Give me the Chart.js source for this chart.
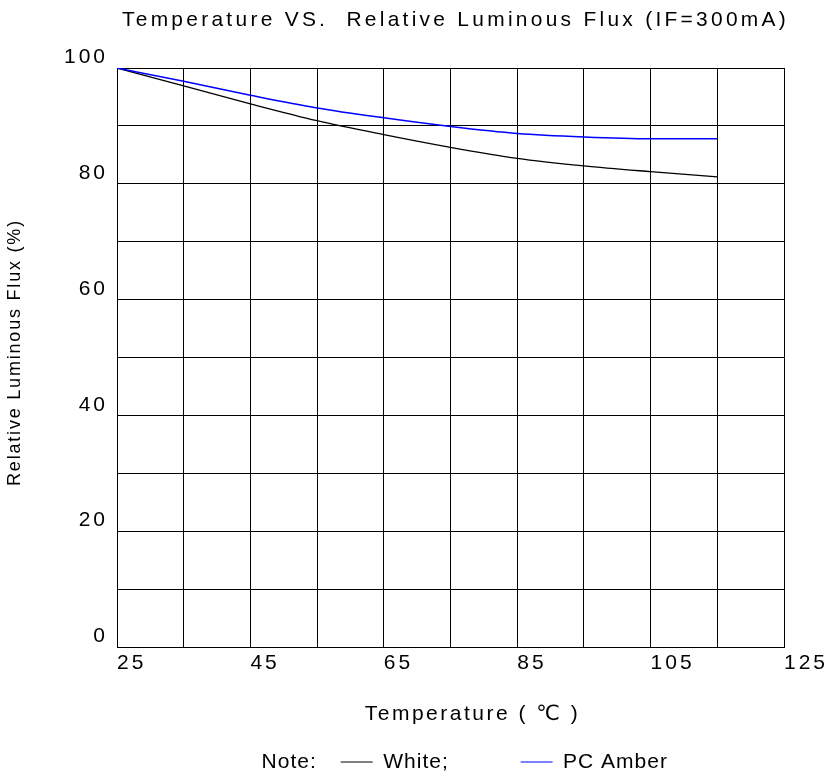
<!DOCTYPE html>
<html>
<head>
<meta charset="utf-8">
<script src="https://cdn.jsdelivr.net/npm/chart.js@4"></script>
<style>
  html, body { margin: 0; padding: 0; background: #ffffff; }
  canvas { display: block; }
</style>
</head>
<body>
<canvas id="c" width="833" height="778"></canvas>
<script>
// ---- data ----
const temperatures = [25, 35, 45, 55, 65, 75, 85, 95, 105, 115];
const whiteFlux    = [100, 96.9, 93.8, 90.9, 88.5, 86.3, 84.4, 83.1, 82.1, 81.2];
const amberFlux    = [100, 97.7, 95.3, 93.1, 91.4, 89.9, 88.7, 88.1, 87.8, 87.8];
const seriesNames  = ['White', 'PC Amber'];
const xTickLabels  = [25, 45, 65, 85, 105, 125];
const yTickLabels  = [0, 20, 40, 60, 80, 100];
const chartTitle   = 'Temperature VS.  Relative Luminous Flux (IF=300mA)';
const xAxisTitle   = 'Temperature ( \u2103 )';
const yAxisTitle   = 'Relative Luminous Flux (%)';
const noteLabel    = 'Note:';

const FONT = "'Liberation Sans', Arial, 'DejaVu Sans', sans-serif";
Chart.defaults.font.family = FONT;
Chart.defaults.color = '#000';

// letter spacing / small offset helper (text in the reference is widely spaced)
function spaced(obj, name, px, dx, dy) {
  if (!obj) return;
  const orig = obj[name];
  if (!orig || orig.__spaced) return;
  const w = function (...args) {
    const ctx = this.ctx;
    const prev = ctx.letterSpacing;
    ctx.save();
    if (dx || dy) ctx.translate(dx || 0, dy || 0);
    ctx.letterSpacing = px + 'px';
    try { return orig.apply(this, args); } finally { ctx.restore(); ctx.letterSpacing = prev; }
  };
  w.__spaced = true;
  obj[name] = w;
}
const spacingPlugin = {
  id: 'letterSpacingPlugin',
  afterInit(chart) {
    spaced(chart.titleBlock, 'draw', 3.3, 5, 0);
    spaced(chart.legend, 'fit', 1);
    spaced(chart.legend, 'draw', 1, -7, 0);
  },
  beforeDraw(chart) {
    spaced(chart.scales.x, 'drawLabels', 3);
    spaced(chart.scales.x, 'drawTitle', 2.5, 22, 0);
    spaced(chart.scales.y, 'drawLabels', 3);
    spaced(chart.scales.y, 'drawTitle', 1.8, 0, -5);
  }
};

function toPoints(values) {
  return temperatures.map((t, i) => ({ x: t, y: values[i] }));
}

new Chart(document.getElementById('c'), {
  type: 'line',
  data: {
    datasets: [
      {
        label: seriesNames[0],
        data: toPoints(whiteFlux),
        borderColor: '#000000',
        borderWidth: 1.3,
        pointRadius: 0,
        fill: false,
        cubicInterpolationMode: 'monotone',
        order: 1
      },
      {
        label: seriesNames[1],
        data: toPoints(amberFlux),
        borderColor: '#0000ff',
        borderWidth: 1.5,
        pointRadius: 0,
        fill: false,
        cubicInterpolationMode: 'monotone',
        order: 0
      }
    ]
  },
  options: {
    responsive: false,
    animation: false,
    devicePixelRatio: 1,
    layout: { padding: { left: 0, right: 49, top: 0, bottom: 0 } },
    plugins: {
      title: {
        display: true,
        text: chartTitle,
        fullSize: false,
        color: '#000',
        font: { family: FONT, size: 21, weight: 'normal' },
        padding: { top: 7.4, bottom: 35.4 }
      },
      legend: {
        display: true,
        position: 'bottom',
        fullSize: false,
        align: 'center',
        maxHeight: 50.5,
        labels: {
          usePointStyle: true,
          pointStyleWidth: 32,
          padding: 24,
          color: '#000',
          font: { family: FONT, size: 21 },
          generateLabels(chart) {
            const ds = chart.data.datasets;
            return [
              { text: noteLabel, fillStyle: 'rgba(0,0,0,0)', strokeStyle: 'rgba(0,0,0,0)', lineWidth: 0, pointStyle: 'line', hidden: false, fontColor: '#000' },
              { text: seriesNames[0] + ';       ', fillStyle: ds[0].borderColor, strokeStyle: ds[0].borderColor, lineWidth: 1, pointStyle: 'line', hidden: false, datasetIndex: 0, fontColor: '#000' },
              { text: seriesNames[1], fillStyle: ds[1].borderColor, strokeStyle: ds[1].borderColor, lineWidth: 1, pointStyle: 'line', hidden: false, datasetIndex: 1, fontColor: '#000' }
            ];
          }
        }
      },
      tooltip: { enabled: false }
    },
    scales: {
      x: {
        type: 'linear',
        position: 'bottom',
        min: 25,
        max: 125,
        grid: { color: '#000', lineWidth: 1, drawTicks: false },
        border: { color: '#000', width: 1 },
        ticks: {
          stepSize: 10,
          align: 'start',
          padding: 4,
          autoSkip: false,
          maxRotation: 0,
          color: '#000',
          font: { family: FONT, size: 21 },
          callback: (v) => xTickLabels.includes(v) ? String(v) : ''
        },
        title: {
          display: true,
          text: xAxisTitle,
          color: '#000',
          font: { family: FONT, size: 21 },
          padding: { top: 0, bottom: 0.9 }
        },
        afterFit(s) { s.height = 80.5; s.paddingLeft = 0; s.paddingRight = 0; }
      },
      y: {
        type: 'linear',
        min: 0,
        max: 100,
        grid: { color: '#000', lineWidth: 1, drawTicks: false },
        border: { color: '#000', width: 1 },
        ticks: {
          stepSize: 10,
          align: 'end',
          padding: 9,
          autoSkip: false,
          color: '#000',
          font: { family: FONT, size: 21 },
          callback: (v) => yTickLabels.includes(v) ? String(v) : ''
        },
        title: {
          display: true,
          text: yAxisTitle,
          color: '#000',
          font: { family: FONT, size: 18 },
          padding: { top: 4.7, bottom: 0 }
        },
        afterFit(s) { s.width = 117; s.paddingTop = 0; s.paddingBottom = 0; }
      }
    }
  },
  plugins: [spacingPlugin]
});
</script>
</body>
</html>
